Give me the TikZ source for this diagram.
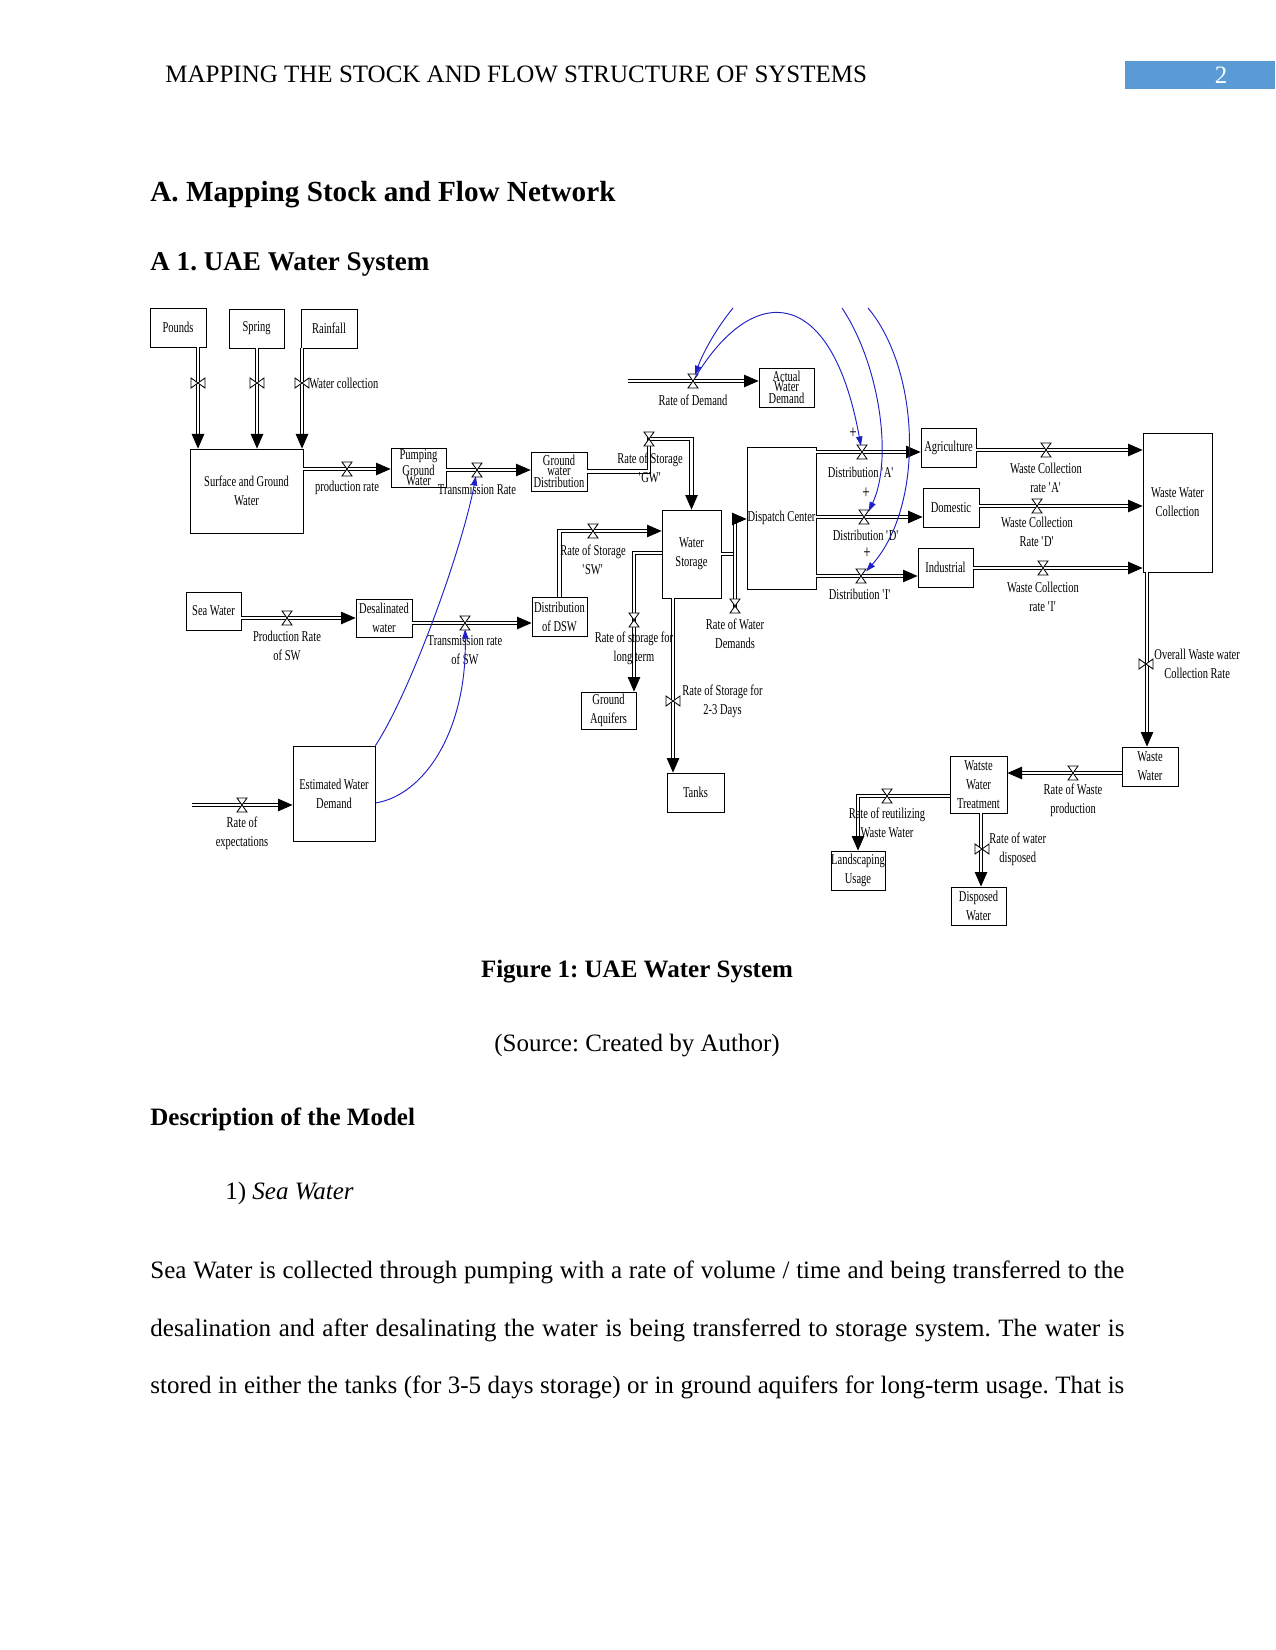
\documentclass[tikz,border=0pt]{standalone}
\usepackage{fontspec}
\setmainfont{Liberation Serif}
\newfontfamily\vensim[FakeStretch=0.7]{Liberation Serif}
\usetikzlibrary{arrows.meta}
\definecolor{linkBlue}{HTML}{1F1FC8}
\definecolor{pageBlue}{HTML}{5B9BD5}
\newcommand{\squote}[1]{\textquotesingle#1\textquotesingle}
\frenchspacing

\tikzset{
  stock/.style={draw, line width=0.4pt, inner sep=0pt, align=center,
    font=\vensim\fontsize{7.2}{9.1}\selectfont},
  sz/.style 2 args={minimum width=#1*0.48pt, minimum height=#2*0.48pt},
  cramp/.style={font=\vensim\fontsize{7.2}{4.8}\selectfont},
  pipe/.style={double, double distance=1.2pt, line width=0.4pt},
  flow/.style={pipe, -{Triangle[length=7pt,width=6pt]}},
  lbl/.style={font=\vensim\fontsize{7.2}{9.1}\selectfont, align=center, inner sep=0pt},
  plus/.style={font=\vensim\fontsize{9}{10}\selectfont, inner sep=0pt},
  info/.style={draw=linkBlue, line width=0.45pt, -{Triangle[length=4.5pt,width=3pt]}, shorten >=3pt},
  valve/.pic={\draw[line width=0.4pt, fill=white] (-5,-7) -- (5,-7) -- (-5,7) -- (5,7) -- cycle;},
  body/.style={anchor=base west, inner sep=0pt, font=\fontsize{12}{14}\selectfont},
}

\begin{document}
\begin{tikzpicture}[x=0.48pt, y=-0.48pt]
  \fill[white] (0,0) rectangle (1275,1650);

  % page header
  \node[body] (head) at (165,83) {MAPPING THE STOCK AND FLOW STRUCTURE OF SYSTEMS};
  \fill[pageBlue] (1125,61) rectangle (1275,89);
  \node[inner sep=0pt, text=white, font=\fontsize{12}{14}\selectfont] (pnum) at (1221,75) {2};
  \node[body, font=\bfseries\fontsize{14}{16}\selectfont] (secA) at (150,202) {A. Mapping Stock and Flow Network};
  \node[body, font=\bfseries\fontsize{13}{15}\selectfont] (secA1) at (150,271) {A 1. UAE Water System};

  % stocks
  \node[stock, sz={56}{39}] (pounds) at (178,327.5) {Pounds};
  \node[stock, sz={55}{39}] (spring) at (256.5,328.5) {Spring};
  \node[stock, sz={56}{39}] (rainfall) at (329,328.5) {Rainfall};
  \node[stock, sz={113}{84}] (sgw) at (246.5,491) {Surface and Ground\\Water};
  \node[stock, cramp, sz={55}{39}] (pgw) at (418.5,467.5) {Pumping\\Ground\\Water};
  \node[stock, cramp, sz={56}{39}] (gwd) at (559,471.5) {Ground\\water\\Distribution};
  \node[stock, cramp, sz={55}{39}] (awd) at (786.5,387.5) {Actual\\Water\\Demand};
  \node[stock, sz={59}{88}] (ws) at (691.5,554) {Water\\Storage};
  \node[stock, sz={69}{142}] (dc) at (781.5,518) {Dispatch Center};
  \node[stock, sz={55}{39}] (agr) at (948.5,447.5) {Agriculture};
  \node[stock, sz={56}{39}] (dom) at (951,507.5) {Domestic};
  \node[stock, sz={55}{39}] (ind) at (945.5,567.5) {Industrial};
  \node[stock, sz={69}{139}] (wwc) at (1177.5,502.5) {Waste Water\\Collection};
  \node[stock, sz={55}{38}] (sw) at (213.5,611) {Sea Water};
  \node[stock, sz={56}{38}] (dsl) at (384,618) {Desalinated\\water};
  \node[stock, sz={55}{39}] (dsw) at (559.5,616.5) {Distribution\\of DSW};
  \node[stock, sz={55}{37}] (gaq) at (608.5,710.5) {Ground\\Aquifers};
  \node[stock, sz={57}{39}] (tanks) at (695.5,792.5) {Tanks};
  \node[stock, sz={82}{95}] (ewd) at (334,793.5) {Estimated Water\\Demand};
  \node[stock, sz={56}{39}] (ww) at (1150,766.5) {Waste\\Water};
  \node[stock, sz={57}{57}] (wwt) at (978.5,784.5) {Watste\\Water\\Treatment};
  \node[stock, sz={54}{39}] (lsu) at (858,870.5) {Landscaping\\Usage};
  \node[stock, sz={55}{38}] (dw) at (978.5,906) {Disposed\\Water};

  % free ends
  \coordinate (demSrc) at (628,381);
  \coordinate (expSrc) at (192,805);
  \coordinate (top1) at (733,308);
  \coordinate (top2) at (842,308);
  \coordinate (top3) at (868,308);

  % flows
  \foreach \src/\fx in {pounds/198, spring/257, rainfall/302} {
    \draw[flow] (\src.south -| \fx,0) -- (sgw.north -| \fx,0);
  }
  \draw[flow] (sgw.east |- 0,469) -- (pgw.west |- 0,469);
  \draw[flow] (pgw.east |- 0,470) -- (gwd.west |- 0,470);
  \draw[flow] (demSrc) -- (awd.west |- demSrc);
  \draw[flow] (gwd.east) -- (649,471.5) -- (649,439) -- (ws.north |- 0,439) -- (ws.north);
  \draw[flow] (dsw.north) -- (dsw.north |- 0,531) -- (ws.west |- 0,531);
  \draw[flow] (ws.west |- 0,553) -- (634,553) -- (gaq.north -| 634,0);
  \draw[flow] (ws.south -| 673,0) -- (tanks.north -| 673,0);
  \draw[flow] (735,608) -- (735,519) -- (dc.west |- 0,519);
  \draw[pipe] (ws.east |- 0,554) -- (733,554);
  \draw[flow] (dc.east |- 0,452) -- (agr.west |- 0,452);
  \draw[flow] (dc.east |- 0,517) -- (dom.west |- 0,517);
  \draw[flow] (dc.east |- 0,576) -- (ind.west |- 0,576);
  \draw[flow] (agr.east |- 0,450) -- (wwc.west |- 0,450);
  \draw[flow] (dom.east |- 0,506) -- (wwc.west |- 0,506);
  \draw[flow] (ind.east |- 0,568) -- (wwc.west |- 0,568);
  \draw[flow] (wwc.south -| 1147,0) -- (ww.north -| 1147,0);
  \draw[flow] (ww.west |- 0,773) -- (wwt.east |- 0,773);
  \draw[flow] (wwt.west |- 0,796) -- (858,796) -- (lsu.north);
  \draw[flow] (wwt.south -| 981,0) -- (dw.north -| 981,0);
  \draw[flow] (sw.east |- 0,618) -- (dsl.west |- 0,618);
  \draw[flow] (dsl.east |- 0,623) -- (dsw.west |- 0,623);
  \draw[flow] (expSrc) -- (ewd.west |- expSrc);

  % valves
  \foreach \fx in {198,257,302} {
    \pic[rotate=90] at (\fx,383) {valve};
  }
  \foreach \vx/\vy in {347/469, 477/470, 693/381, 649/439, 593/531, 634/620, 735/606,
      862/452, 864/517, 861/576, 1046/450, 1037/506, 1043/568, 1073/773, 887/796,
      287/618, 465/623, 242/805} {
    \pic at (\vx,\vy) {valve};
  }
  \foreach \vx/\vy in {673/701, 1146/664, 982/849} {
    \pic[rotate=90] at (\vx,\vy) {valve};
  }
  \coordinate (vTR) at (477,470);
  \coordinate (vTRSW) at (465,623);
  \coordinate (vRD) at (693,381);
  \coordinate (vDA) at (862,452);
  \coordinate (vDD) at (866,517);
  \coordinate (vDI) at (862,576);

  % flow labels
  \node[lbl, anchor=west] (lWC) at (309,383) {Water collection};
  \node[lbl] (lPR) at (347,488) {production rate};
  \node[lbl] (lTR) at (477,490) {Transmission Rate};
  \node[lbl] (lRD) at (693,400) {Rate of Demand};
  \node[lbl] (lGW) at (650,468) {Rate of Storage\\\squote{GW}};
  \node[lbl] (lSW) at (593,560) {Rate of Storage\\\squote{SW}};
  \node[lbl] (lLT) at (634,648) {Rate of storage for\\long term};
  \node[lbl, anchor=west] (lTD) at (682,701) {Rate of Storage for\\2-3 Days};
  \node[lbl] (lWD) at (735,634) {Rate of Water\\Demands};
  \node[lbl] (lDA) at (861,472) {Distribution \squote{A}};
  \node[lbl] (lDD) at (866,535) {Distribution \squote{D}};
  \node[lbl] (lDI) at (860,594) {Distribution \squote{I}};
  \node[plus] (pA) at (853,433) {+};
  \node[plus] (pD) at (866,493) {+};
  \node[plus] (pI) at (867,553) {+};
  \node[lbl] (lWA) at (1046,478) {Waste Collection\\rate \squote{A}};
  \node[lbl] (lWDm) at (1037,532) {Waste Collection\\Rate \squote{D}};
  \node[lbl] (lWI) at (1043,597) {Waste Collection\\rate \squote{I}};
  \node[lbl, anchor=west] (lOW) at (1154,664) {Overall Waste water\\Collection Rate};
  \node[lbl] (lWP) at (1073,800) {Rate of Waste\\production};
  \node[lbl] (lRU) at (887,823) {Rate of reutilizing\\Waste Water};
  \node[lbl, anchor=west] (lDs) at (989,849) {Rate of water\\disposed};
  \node[lbl] (lPS) at (287,646) {Production Rate\\of SW};
  \node[lbl] (lTS) at (465,650) {Transmission rate\\of SW};
  \node[lbl] (lRE) at (242,833) {Rate of\\expectations};

  % information links
  \draw[info] (ewd.north east) .. controls (410,693) and (462,550) .. (vTR);
  \draw[info] (ewd.east |- 0,803) .. controls (425,795) and (467,730) .. (vTRSW);
  \draw[info] (top1) .. controls (715,330) and (702,355) .. (vRD);
  \draw[info, shorten <=2pt] (vRD) .. controls (754,280) and (832,286) .. (vDA);
  \draw[info] (top2) .. controls (880,365) and (893,460) .. (vDD);
  \draw[info] (top3) .. controls (920,370) and (925,505) .. (vDI);

  % caption and text
  \node[body, anchor=base, font=\bfseries\fontsize{12}{14}\selectfont] (cap) at (637,977) {Figure 1: UAE Water System};
  \node[body, anchor=base] (src) at (637,1051) {(Source: Created by Author)};
  \node[body, font=\bfseries\fontsize{12}{14}\selectfont] (desc) at (150,1125) {Description of the Model};
  \node[body] (item) at (225,1199) {1) \textit{Sea Water}};
  \node[body] (line1) at (150,1278) {\makebox[467.5pt][s]{Sea Water is collected through pumping with a rate of volume / time and being transferred to the}};
  \node[body] (line2) at (150,1336) {\makebox[467.5pt][s]{desalination and after desalinating the water is being transferred to storage system. The water is}};
  \node[body] (line3) at (150,1393) {\makebox[467.5pt][s]{stored in either the tanks (for 3-5 days storage) or in ground aquifers for long-term usage. That is}};
\end{tikzpicture}
\end{document}
